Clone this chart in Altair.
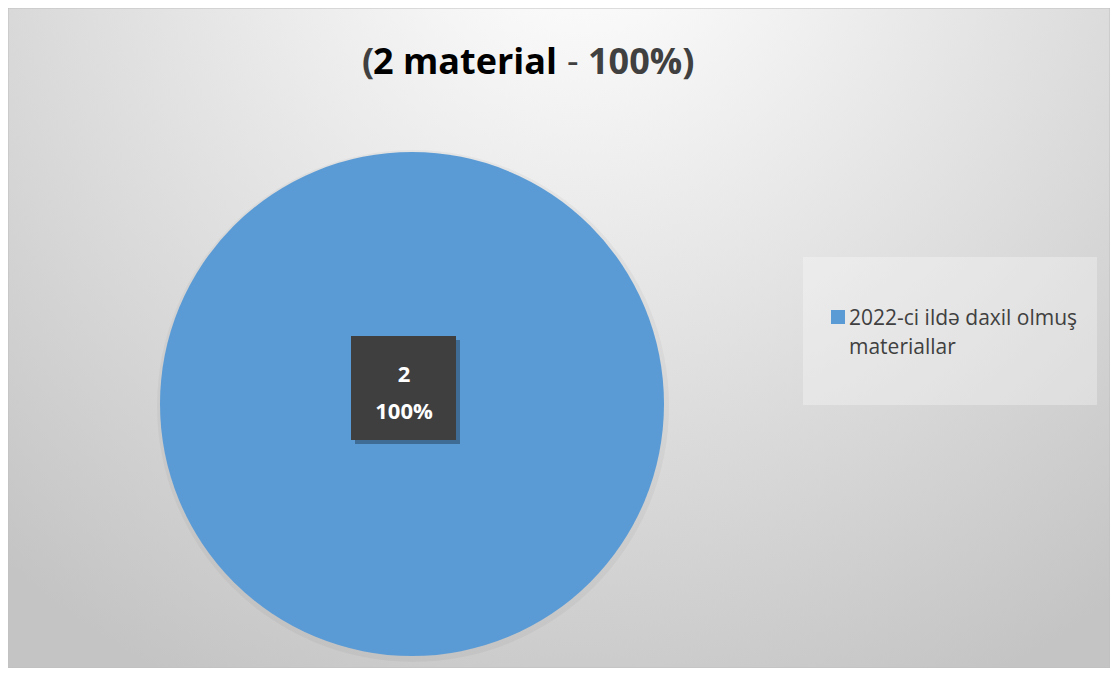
import altair as alt
import pandas as pd

# ---- data ----
categories = ["2022-ci ildə daxil olmuş materiallar"]
values = [2]
title_parts = ["(", "2 material", "- ", "100%)"]
pie_color = ["#5B9BD5"]

W, H = 1102, 660

df = pd.DataFrame({"category": categories, "value": values})
one = pd.DataFrame({"a": [0]})

color_scale = alt.Scale(domain=categories, range=pie_color)

bg = alt.Chart(one).mark_rect(
    fill={
        "gradient": "radial",
        "x1": 0.52, "y1": 0.1, "r1": 0,
        "x2": 0.52, "y2": 0.1, "r2": 0.8,
        "stops": [
            {"offset": 0, "color": "#ffffff"},
            {"offset": 0.15, "color": "#f8f8f8"},
            {"offset": 1, "color": "#c4c4c4"},
        ],
    },
    stroke="#bfbfbf",
    strokeWidth=1,
).encode(x=alt.value(0), x2=alt.value(W), y=alt.value(0), y2=alt.value(H))

# soft halo around pie
halo = alt.Chart(df).mark_arc(radius=256, color="#000000", opacity=0.035).encode(
    theta=alt.Theta("value:Q", stack=True),
    x=alt.value(405), y=alt.value(398),
)

pie = alt.Chart(df).mark_arc(radius=252).encode(
    theta=alt.Theta("value:Q", stack=True),
    color=alt.Color("category:N", scale=color_scale, legend=None),
    x=alt.value(404), y=alt.value(396),
)

# data label box
box_shadow = alt.Chart(one).mark_rect(color="#000000", opacity=0.3).encode(
    x=alt.value(347), x2=alt.value(452), y=alt.value(332), y2=alt.value(436)
)
box = alt.Chart(one).mark_rect(color="#3f3f3f").encode(
    x=alt.value(343), x2=alt.value(448), y=alt.value(328), y2=alt.value(432)
)

base_lbl = alt.Chart(df).transform_joinaggregate(total="sum(value)").transform_calculate(
    pct="format(datum.value / datum.total, '.0%')",
    val="format(datum.value, 'd')",
)
lbl_val = base_lbl.mark_text(
    font="Open Sans", fontWeight="bold", fontSize=22, color="#ffffff", baseline="alphabetic"
).encode(text="val:N", x=alt.value(396), y=alt.value(374))
lbl_pct = base_lbl.mark_text(
    font="Open Sans", fontWeight="bold", fontSize=22, color="#ffffff", baseline="alphabetic"
).encode(text="pct:N", x=alt.value(396), y=alt.value(411))

# title (multi-coloured)
tdf = pd.DataFrame({"t": title_parts})
def tpart(i, x, color, weight):
    return alt.Chart(tdf).transform_filter(alt.datum.t == title_parts[i]).mark_text(
        font="Open Sans", fontSize=36, fontWeight=weight, color=color,
        align="left", baseline="alphabetic",
    ).encode(text="t:N", x=alt.value(x), y=alt.value(66))

title = [
    tpart(0, 354, "#404040", "bold"),
    tpart(1, 365, "#000000", "bold"),
    tpart(2, 559, "#404040", "normal"),
    tpart(3, 580, "#404040", "bold"),
]

# legend box
leg_box = alt.Chart(one).mark_rect(color="#ffffff", opacity=0.3).encode(
    x=alt.value(795), x2=alt.value(1089), y=alt.value(249), y2=alt.value(397)
)
leg_sym = alt.Chart(df).mark_square(size=196, opacity=1).encode(
    color=alt.Color("category:N", scale=color_scale, legend=None),
    x=alt.value(830), y=alt.value(309),
)
leg_txt = alt.Chart(df).transform_calculate(
    lab="replace(datum.category, 'olmuş ', 'olmuş|')"
).mark_text(
    font="Open Sans", fontSize=21, color="#404040", align="left", baseline="alphabetic",
    lineBreak="|", lineHeight=29,
).encode(text="lab:N", x=alt.value(841), y=alt.value(317))

chart = alt.layer(
    bg, halo, pie, box_shadow, box, lbl_val, lbl_pct, *title, leg_box, leg_sym, leg_txt
).properties(
    width=W, height=H, padding=0, autosize=alt.AutoSizeParams(type="none")
).configure_view(stroke=None)

chart.save("out.html", embed_options={"renderer": "svg", "actions": False})
